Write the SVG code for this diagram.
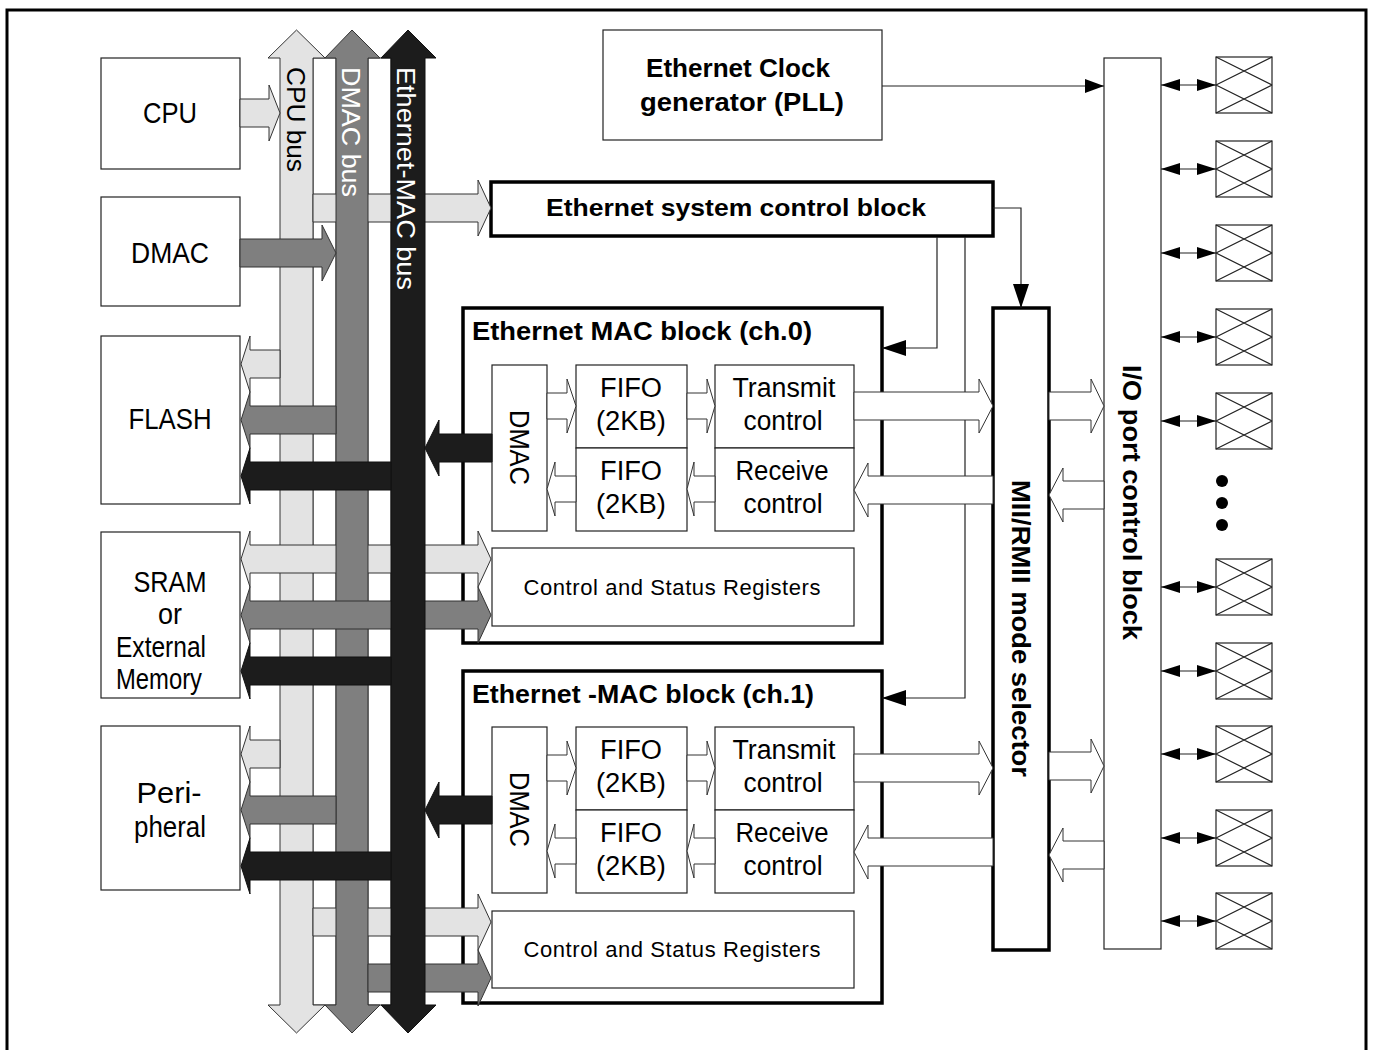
<svg xmlns="http://www.w3.org/2000/svg" xmlns:xlink="http://www.w3.org/1999/xlink" width="1373" height="1050" viewBox="0 0 1373 1050">
<style>
.frame{fill:none;stroke:#000;stroke-width:3}
.box{fill:#fff;stroke:#222;stroke-width:1.2}
.thick{fill:#fff;stroke:#000;stroke-width:3.5}
.lt{fill:#e3e3e3;stroke:#333;stroke-width:1}
.md{fill:#7f7f7f;stroke:#333;stroke-width:1}
.bk{fill:#1c1c1c;stroke:#111;stroke-width:1}
.wa{fill:#fff;stroke:#333;stroke-width:1}
.strip{fill:#fff;stroke:#333;stroke-width:1}
.ln{fill:none;stroke:#222;stroke-width:1.2}
.t{font-family:"Liberation Sans",Arial,sans-serif;fill:#000}
.n{font-size:27px}
.L{font-size:29px}
.b{font-weight:bold}
.c{text-anchor:middle}
.wt{fill:#fff}
.pin{fill:#fff;stroke:#222;stroke-width:1.2}
.dot{fill:#000}
</style>
<defs>
<marker id="ah" markerUnits="userSpaceOnUse" markerWidth="24" markerHeight="16" viewBox="0 0 24 16" refX="24" refY="8" orient="auto">
<path d="M0,0 L24,8 L0,16 Z" fill="#000"/>
</marker>
<marker id="ahm" markerUnits="userSpaceOnUse" markerWidth="19" markerHeight="14" viewBox="0 0 19 14" refX="19" refY="7" orient="auto">
<path d="M0,0 L19,7 L0,14 Z" fill="#000"/>
</marker>
<marker id="ahs" markerUnits="userSpaceOnUse" markerWidth="19" markerHeight="12" viewBox="0 0 19 12" refX="19" refY="6" orient="auto-start-reverse">
<path d="M0,0 L19,6 L0,12 Z" fill="#000"/>
</marker>
<g id="pad">
<rect class="pin" x="0" y="0" width="56" height="56"/>
<path class="ln" d="M0,0 L56,28 M0,56 L56,28 M56,0 L0,28 M56,56 L0,28"/>
</g>
</defs>

<rect class="frame" x="7" y="10" width="1359" height="1070"/>

<!-- left nodes -->
<g id="cpu"><rect class="box" x="101" y="58" width="139" height="111"/><text class="t L c" x="170" y="123" textLength="54" lengthAdjust="spacingAndGlyphs">CPU</text></g>
<g id="dmac"><rect class="box" x="101" y="197" width="139" height="109"/><text class="t L c" x="170" y="263" textLength="78" lengthAdjust="spacingAndGlyphs">DMAC</text></g>
<g id="flash"><rect class="box" x="101" y="336" width="139" height="168"/><text class="t L c" x="170" y="429" textLength="83" lengthAdjust="spacingAndGlyphs">FLASH</text></g>
<g id="sram"><rect class="box" x="101" y="532" width="139" height="166"/>
<text class="t L c" x="170" y="592" textLength="73" lengthAdjust="spacingAndGlyphs">SRAM</text>
<text class="t L c" x="170" y="624" textLength="24" lengthAdjust="spacingAndGlyphs">or</text>
<text class="t L c" x="161" y="657" textLength="90" lengthAdjust="spacingAndGlyphs">External</text>
<text class="t L c" x="159" y="689" textLength="86" lengthAdjust="spacingAndGlyphs">Memory</text></g>
<g id="peripheral"><rect class="box" x="101" y="726" width="139" height="164"/>
<text class="t L c" x="169" y="803" textLength="65" lengthAdjust="spacingAndGlyphs">Peri-</text>
<text class="t L c" x="170" y="837" textLength="72" lengthAdjust="spacingAndGlyphs">pheral</text></g>

<!-- clock / control / MII / IO -->
<g id="clock"><rect class="box" x="603" y="30" width="279" height="110"/>
<text class="t b c" font-size="25" x="738" y="77" textLength="184" lengthAdjust="spacingAndGlyphs">Ethernet Clock</text>
<text class="t b c" font-size="25" x="742" y="111" textLength="204" lengthAdjust="spacingAndGlyphs">generator (PLL)</text></g>
<g id="sysctrl"><rect class="thick" x="491" y="182" width="502" height="54"/>
<text class="t b c" font-size="24" x="736" y="216" textLength="380" lengthAdjust="spacingAndGlyphs">Ethernet system control block</text></g>
<g id="mii"><rect class="thick" x="993" y="308" width="56" height="642"/>
<text class="t b" font-size="26" transform="translate(1012,480) rotate(90)" textLength="297" lengthAdjust="spacingAndGlyphs">MII/RMII mode selector</text></g>
<g id="ioport"><rect class="box" x="1104" y="58" width="57" height="891"/>
<text class="t b" font-size="26" transform="translate(1123,365) rotate(90)" textLength="275" lengthAdjust="spacingAndGlyphs">I/O port control block</text></g>

<!-- MAC ch0 -->
<g id="mac0"><rect class="thick" x="463" y="308" width="419" height="335"/>
<text class="t b" font-size="25" x="472" y="340" textLength="340" lengthAdjust="spacingAndGlyphs">Ethernet MAC block  (ch.0)</text>
<rect class="box" x="492" y="365" width="55" height="166"/>
<text class="t n" transform="translate(510,410) rotate(90)" textLength="75" lengthAdjust="spacingAndGlyphs">DMAC</text>
<rect class="box" x="576" y="365" width="111" height="83"/>
<rect class="box" x="576" y="448" width="111" height="83"/>
<rect class="box" x="715" y="365" width="139" height="83"/>
<rect class="box" x="715" y="448" width="139" height="83"/>
<text class="t n c" x="631" y="397" textLength="62" lengthAdjust="spacingAndGlyphs">FIFO</text>
<text class="t n c" x="631" y="430" textLength="70" lengthAdjust="spacingAndGlyphs">(2KB)</text>
<text class="t n c" x="631" y="480" textLength="62" lengthAdjust="spacingAndGlyphs">FIFO</text>
<text class="t n c" x="631" y="513" textLength="70" lengthAdjust="spacingAndGlyphs">(2KB)</text>
<text class="t n c" x="784" y="397" textLength="103" lengthAdjust="spacingAndGlyphs">Transmit</text>
<text class="t n c" x="783" y="430" textLength="79" lengthAdjust="spacingAndGlyphs">control</text>
<text class="t n c" x="782" y="480" textLength="93" lengthAdjust="spacingAndGlyphs">Receive</text>
<text class="t n c" x="783" y="513" textLength="79" lengthAdjust="spacingAndGlyphs">control</text>
<rect class="box" x="492" y="548" width="362" height="78"/>
<text class="t c" font-size="22" x="672" y="595" textLength="297" lengthAdjust="spacing">Control and Status Registers</text>
</g>

<!-- MAC ch1 -->
<g id="mac1"><rect class="thick" x="463" y="671" width="419" height="332"/>
<text class="t b" font-size="25" x="472" y="703" textLength="342" lengthAdjust="spacingAndGlyphs">Ethernet -MAC block (ch.1)</text>
<rect class="box" x="492" y="727" width="55" height="166"/>
<text class="t n" transform="translate(510,772) rotate(90)" textLength="75" lengthAdjust="spacingAndGlyphs">DMAC</text>
<rect class="box" x="576" y="727" width="111" height="83"/>
<rect class="box" x="576" y="810" width="111" height="83"/>
<rect class="box" x="715" y="727" width="139" height="83"/>
<rect class="box" x="715" y="810" width="139" height="83"/>
<text class="t n c" x="631" y="759" textLength="62" lengthAdjust="spacingAndGlyphs">FIFO</text>
<text class="t n c" x="631" y="792" textLength="70" lengthAdjust="spacingAndGlyphs">(2KB)</text>
<text class="t n c" x="631" y="842" textLength="62" lengthAdjust="spacingAndGlyphs">FIFO</text>
<text class="t n c" x="631" y="875" textLength="70" lengthAdjust="spacingAndGlyphs">(2KB)</text>
<text class="t n c" x="784" y="759" textLength="103" lengthAdjust="spacingAndGlyphs">Transmit</text>
<text class="t n c" x="783" y="792" textLength="79" lengthAdjust="spacingAndGlyphs">control</text>
<text class="t n c" x="782" y="842" textLength="93" lengthAdjust="spacingAndGlyphs">Receive</text>
<text class="t n c" x="783" y="875" textLength="79" lengthAdjust="spacingAndGlyphs">control</text>
<rect class="box" x="492" y="911" width="362" height="77"/>
<text class="t c" font-size="22" x="672" y="957" textLength="297" lengthAdjust="spacing">Control and Status Registers</text>
</g>

<!-- pins -->
<g id="pins">
<use xlink:href="#pad" x="1216" y="57"/>
<use xlink:href="#pad" x="1216" y="141"/>
<use xlink:href="#pad" x="1216" y="225"/>
<use xlink:href="#pad" x="1216" y="309"/>
<use xlink:href="#pad" x="1216" y="393"/>
<use xlink:href="#pad" x="1216" y="559"/>
<use xlink:href="#pad" x="1216" y="643"/>
<use xlink:href="#pad" x="1216" y="726"/>
<use xlink:href="#pad" x="1216" y="810"/>
<use xlink:href="#pad" x="1216" y="893"/>
<circle class="dot" cx="1222" cy="481" r="6"/>
<circle class="dot" cx="1222" cy="503" r="6"/>
<circle class="dot" cx="1222" cy="525" r="6"/>
</g>

<!-- connectors -->
<g id="connectors">
<!-- buses -->
<rect class="strip" x="313" y="58" width="23" height="947"/>
<rect class="strip" x="368" y="58" width="23" height="947"/>
<path class="lt" d="M280 58H268L296.5 30L325 58H313V1005H325L296.5 1033L268 1005H280Z"/>
<text class="t" font-size="26" transform="translate(287,67) rotate(90)" textLength="105" lengthAdjust="spacingAndGlyphs">CPU bus</text>
<path class="lt" d="M240 99H269V85L280 113L269 141V127H240Z"/>
<path class="lt" d="M313 194H478V180L491 208L478 236V222H313Z"/>
<path class="lt" d="M280 350H250V336L241 364L250 392V378H280Z"/>
<path class="lt" d="M250 545H478V531L491 559L478 587V573H250V587L241 559L250 531Z"/>
<path class="lt" d="M280 740H250V726L241 754L250 782V768H280Z"/>
<path class="lt" d="M313 908H478V894L491 922L478 950V936H313Z"/>

<path class="md" d="M336 58H325L352 30L380 58H368V1005H380L352 1033L325 1005H336Z"/>
<text class="t wt" font-size="26" transform="translate(342,67) rotate(90)" textLength="130" lengthAdjust="spacingAndGlyphs">DMAC bus</text>
<path class="md" d="M240 239H322V225L336 253L322 281V267H240Z"/>
<path class="md" d="M336 406H250V392L241 420L250 448V434H336Z"/>
<path class="md" d="M250 601H478V587L491 615L478 643V629H250V643L241 615L250 587Z"/>
<path class="md" d="M336 796H250V782L241 810L250 838V824H336Z"/>
<path class="md" d="M368 964H478V950L491 978L478 1006V992H368Z"/>

<path class="bk" d="M391 58H381L408 30L436 58H425V1005H436L408 1033L381 1005H391Z"/>
<text class="t wt" font-size="26" transform="translate(397,67) rotate(90)" textLength="223" lengthAdjust="spacingAndGlyphs">Ethernet-MAC bus</text>
<path class="bk" d="M391 462H250V448L241 476L250 504V490H391Z"/>
<path class="bk" d="M391 657H250V643L241 671L250 699V685H391Z"/>
<path class="bk" d="M391 852H250V838L241 866L250 894V880H391Z"/>
<path class="bk" d="M492 434H439V420L425 448L439 476V462H492Z"/>
<path class="bk" d="M492 796H439V782L425 810L439 838V824H492Z"/>

<!-- control lines -->
<path class="ln" d="M993 208H1021V308" marker-end="url(#ah)"/>
<path class="ln" d="M937 237V348H882" marker-end="url(#ah)"/>
<path class="ln" d="M965 237V698H882" marker-end="url(#ah)"/>
<path class="ln" d="M882 86H1104" marker-end="url(#ahm)"/>

<!-- internal data arrows ch0 -->
<path class="wa" d="M547 393H567V379L576 406L567 433V419H547Z"/>
<path class="wa" d="M687 393H707V379L715 406L707 433V419H687Z"/>
<path class="wa" d="M715 476H694V462L687 489L694 516V502H715Z"/>
<path class="wa" d="M576 476H555V462L547 489L555 516V502H576Z"/>
<!-- internal data arrows ch1 -->
<path class="wa" d="M547 755H567V741L576 768L567 795V781H547Z"/>
<path class="wa" d="M687 755H707V741L715 768L707 795V781H687Z"/>
<path class="wa" d="M715 838H694V824L687 851L694 878V864H715Z"/>
<path class="wa" d="M576 838H555V824L547 851L555 878V864H576Z"/>

<!-- MAC <-> MII <-> IO -->
<path class="wa" d="M854 392H979V379L993 406L979 433V420H854Z"/>
<path class="wa" d="M993 476H868V463L854 490L868 517V504H993Z"/>
<path class="wa" d="M1049 392H1091V379L1104 406L1091 433V420H1049Z"/>
<path class="wa" d="M1104 481H1063V468L1049 495L1063 522V509H1104Z"/>
<path class="wa" d="M854 754H979V741L993 768L979 795V782H854Z"/>
<path class="wa" d="M993 838H868V825L854 852L868 879V866H993Z"/>
<path class="wa" d="M1049 752H1091V739L1104 766L1091 793V780H1049Z"/>
<path class="wa" d="M1104 841H1063V828L1049 855L1063 882V869H1104Z"/>

<!-- IO <-> pins -->
<path class="ln" d="M1161 85H1216" marker-start="url(#ahs)" marker-end="url(#ahs)"/>
<path class="ln" d="M1161 169H1216" marker-start="url(#ahs)" marker-end="url(#ahs)"/>
<path class="ln" d="M1161 253H1216" marker-start="url(#ahs)" marker-end="url(#ahs)"/>
<path class="ln" d="M1161 337H1216" marker-start="url(#ahs)" marker-end="url(#ahs)"/>
<path class="ln" d="M1161 421H1216" marker-start="url(#ahs)" marker-end="url(#ahs)"/>
<path class="ln" d="M1161 587H1216" marker-start="url(#ahs)" marker-end="url(#ahs)"/>
<path class="ln" d="M1161 671H1216" marker-start="url(#ahs)" marker-end="url(#ahs)"/>
<path class="ln" d="M1161 754H1216" marker-start="url(#ahs)" marker-end="url(#ahs)"/>
<path class="ln" d="M1161 838H1216" marker-start="url(#ahs)" marker-end="url(#ahs)"/>
<path class="ln" d="M1161 921H1216" marker-start="url(#ahs)" marker-end="url(#ahs)"/>
</g>
</svg>
